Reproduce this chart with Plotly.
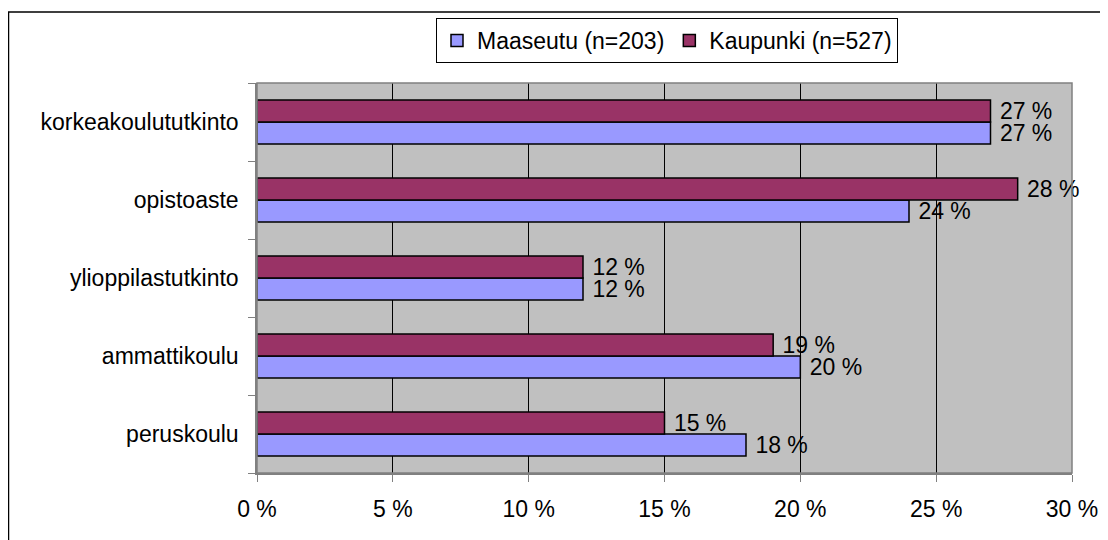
import plotly.graph_objects as go

categories = ["peruskoulu", "ammattikoulu", "ylioppilastutkinto", "opistoaste", "korkeakoulututkinto"]
maaseutu = [18, 20, 12, 24, 27]
kaupunki = [15, 19, 12, 28, 27]
series_names = ["Maaseutu (n=203)", "Kaupunki (n=527)"]
x_ticks = [0, 5, 10, 15, 20, 25, 30]
x_tick_labels = ["0 %", "5 %", "10 %", "15 %", "20 %", "25 %", "30 %"]

FONT = "Liberation Sans, Arial, sans-serif"
FS = 23

fig = go.Figure()
for name, vals, color in [(series_names[0], maaseutu, "#9999FF"),
                          (series_names[1], kaupunki, "#993366")]:
    fig.add_trace(go.Bar(
        y=categories, x=vals, name=name, orientation="h",
        marker=dict(color=color, line=dict(color="black", width=1.5)),
        text=[f"\u00a0{v} %" for v in vals], textposition="outside",
        textfont=dict(family=FONT, size=FS, color="black"),
        constraintext="none", cliponaxis=False,
    ))

# page has an 8px body margin; figure coords = screen coords - 8
W, H = 1100, 532
L, R, T, B = 249, 36, 75, 67
pw, ph = W - L - R, H - T - B

def px(x):
    return (x - L) / pw

def py(y):
    return (H - B - y) / ph

fig.update_layout(
    width=W, height=H,
    margin=dict(l=L, r=R, t=T, b=B, pad=0, autoexpand=False),
    paper_bgcolor="white", plot_bgcolor="#C0C0C0",
    barmode="group", bargap=0.436, bargroupgap=0,
    font=dict(family=FONT, size=FS, color="black"),
    showlegend=True,
    legend=dict(orientation="h", x=px(428), y=py(10), xanchor="left", yanchor="top",
                bgcolor="white", bordercolor="black", borderwidth=1,
                font=dict(family=FONT, size=FS), itemwidth=30, traceorder="normal"),
    xaxis=dict(range=[0, 30], tickvals=x_ticks, ticktext=x_tick_labels,
               showgrid=True, gridcolor="black", gridwidth=1, zeroline=False,
               ticks="outside", ticklen=7, tickcolor="#808080",
               showline=True, linecolor="#808080", linewidth=1.5,
               tickfont=dict(family=FONT, size=FS), ticklabelstandoff=8, fixedrange=True),
    yaxis=dict(type="category", categoryorder="array", categoryarray=categories,
               tickson="boundaries", ticks="outside", ticklen=7, tickcolor="#808080",
               showgrid=False, showline=True, linecolor="#808080", linewidth=1.5,
               tickfont=dict(family=FONT, size=FS), ticklabelstandoff=12, fixedrange=True),
    shapes=[
        dict(type="rect", xref="paper", yref="paper", x0=0, x1=1, y0=0, y1=1,
             line=dict(color="#808080", width=1.5), fillcolor="rgba(0,0,0,0)", layer="above"),
        dict(type="rect", xref="paper", yref="paper", x0=px(0.5), x1=px(1120), y0=py(560), y1=py(4),
             line=dict(color="black", width=1.5), fillcolor="rgba(0,0,0,0)"),
    ],
)

fig.write_html("out.html")
